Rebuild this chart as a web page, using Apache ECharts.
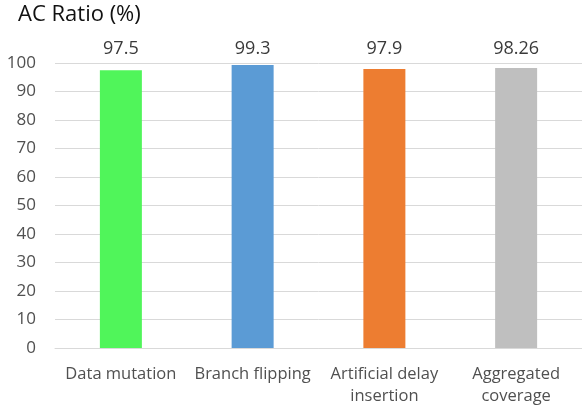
<!DOCTYPE html>
<html>
<head>
<meta charset="utf-8">
<script src="https://cdn.jsdelivr.net/npm/echarts@6/dist/echarts.min.js"></script>
<style>html,body{margin:0;padding:0;background:#fff;}#c{width:582px;height:412px;}</style>
</head>
<body>
<div id="c"></div>
<script>
var categories = ['Data mutation', 'Branch flipping', 'Artificial delay\ninsertion', 'Aggregated\ncoverage'];
var values = [97.5, 99.3, 97.9, 98.26];
var valueLabels = ['97.5', '99.3', '97.9', '98.26'];
var barColors = ['#50f55a', '#5b9bd5', '#ed7d31', '#bfbfbf'];
var yTicks = { min: 0, max: 100, interval: 10 };

var FONT = 'Open Sans';
var chart = echarts.init(document.getElementById('c'), null, { renderer: 'canvas' });
chart.setOption({
  animation: false,
  backgroundColor: '#ffffff',
  title: {
    text: 'AC Ratio (%)', left: 13, top: -1,
    textStyle: { fontFamily: FONT, fontSize: 22, fontWeight: 'normal', color: '#111111' }
  },
  grid: { left: 55, right: -4, top: 63, bottom: 64, containLabel: false },
  xAxis: [{
    type: 'category', data: categories, position: 'bottom',
    axisLine: { show: true, lineStyle: { color: '#d9d9d9', width: 1 } },
    axisTick: { show: false },
    axisLabel: { interval: 0, margin: 15, fontFamily: FONT, fontSize: 16.5, lineHeight: 22, color: '#505050' }
  }, {
    type: 'category', data: valueLabels, position: 'top',
    axisLine: { show: false }, axisTick: { show: false },
    axisLabel: { interval: 0, margin: 5, fontFamily: FONT, fontSize: 18, color: '#3a3a3a' }
  }],
  yAxis: {
    type: 'value', min: yTicks.min, max: yTicks.max, interval: yTicks.interval,
    axisLine: { show: false }, axisTick: { show: false },
    splitLine: { lineStyle: { color: '#d9d9d9', width: 1 } },
    axisLabel: { margin: 19, fontFamily: FONT, fontSize: 17, color: '#505050' }
  },
  series: [{
    type: 'bar', data: values.map(function (v, i) { return { value: v, itemStyle: { color: barColors[i] } }; }),
    barWidth: 42, xAxisIndex: 0
  }]
});
</script>
</body>
</html>
